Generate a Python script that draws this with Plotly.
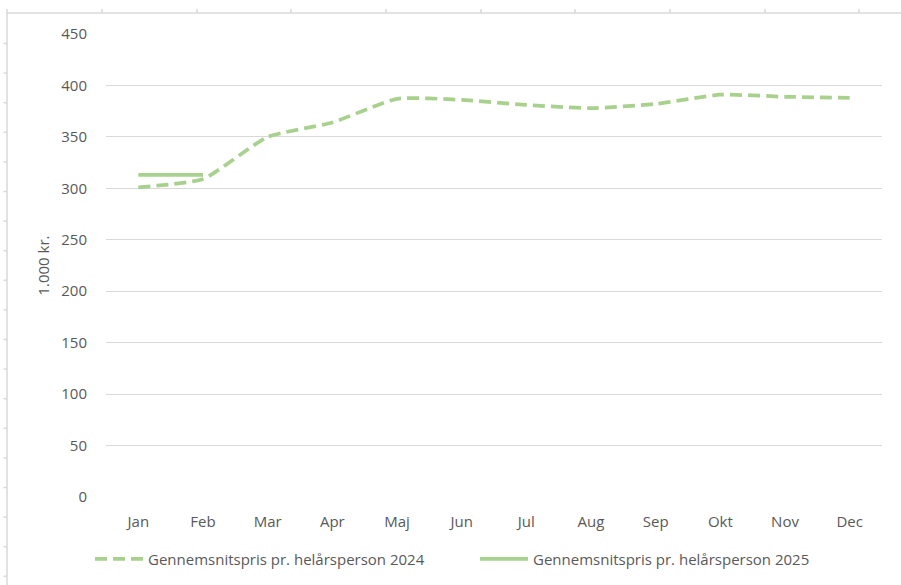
import plotly.graph_objects as go

months = ["Jan", "Feb", "Mar", "Apr", "Maj", "Jun", "Jul", "Aug", "Sep", "Okt", "Nov", "Dec"]
price_2024 = [301, 309, 350, 364, 387, 386, 381, 378, 382, 391, 389, 388]
months_2025 = ["Jan", "Feb"]
price_2025 = [313, 313]
y_ticks = [0, 50, 100, 150, 200, 250, 300, 350, 400, 450]

GREEN = "#A9D18E"
TEXT = "#595959"
GRID = "#D9D9D9"
FONT = "Open Sans, Segoe UI, sans-serif"
FS = 15

fig = go.Figure()
fig.add_trace(go.Scatter(
    x=months, y=price_2024, mode="lines", name="Gennemsnitspris pr. helårsperson 2024",
    line=dict(color=GREEN, width=3.75, dash="12px,6px", shape="spline", smoothing=0.5),
))
fig.add_trace(go.Scatter(
    x=months_2025, y=price_2025, mode="lines", name="Gennemsnitspris pr. helårsperson 2025",
    line=dict(color=GREEN, width=3.75, shape="spline"),
))

W, H = 901, 585
L, R, T, B = 106, 882, 34, 497

def px(x):
    return (x - L) / (R - L)

def py(y):
    return (B - y) / (B - T)

shapes = []
frame = dict(type="line", xref="paper", yref="paper", line=dict(color=GRID, width=1.5), layer="below")
# spreadsheet frame lines
shapes.append(dict(frame, x0=px(7), x1=px(901), y0=py(13), y1=py(13)))
shapes.append(dict(frame, x0=px(7), x1=px(7), y0=py(13), y1=py(585)))
for cx in [7, 102, 197, 291, 386, 481, 575, 670, 765, 859]:
    shapes.append(dict(frame, x0=px(cx), x1=px(cx), y0=py(9), y1=py(13)))
ry = 43.5
while ry < 585:
    shapes.append(dict(frame, x0=px(3.5), x1=px(7), y0=py(ry), y1=py(ry)))
    ry += 29.6

fig.update_layout(
    width=W, height=H,
    margin=dict(l=L, r=W - R, t=T, b=H - B, pad=0),
    paper_bgcolor="white", plot_bgcolor="white",
    font=dict(family=FONT, size=FS, color=TEXT),
    xaxis=dict(showgrid=False, showline=False, zeroline=False, ticks="",
               tickfont=dict(size=FS, color=TEXT), range=[-0.5, 11.5], ticklabelstandoff=14),
    yaxis=dict(range=[0, 450], tickvals=y_ticks, showgrid=True, gridcolor=GRID, gridwidth=1,
               zeroline=False, showline=False, ticks="", ticklabelstandoff=18,
               tickfont=dict(size=FS, color=TEXT),
               title=dict(text="1.000 kr.", font=dict(size=FS, color=TEXT), standoff=8)),
    legend=dict(orientation="h", xref="container", yref="container", x=90 / W, y=(H - 559) / H,
                xanchor="left", yanchor="middle", font=dict(size=FS, color=TEXT),
                itemwidth=48, entrywidth=322, entrywidthmode="pixels", tracegroupgap=0),
    shapes=shapes,
    showlegend=True,
)

fig.write_html("out.html", config={"displayModeBar": False},
               post_script="document.body.style.margin='0';document.body.style.padding='0';")
